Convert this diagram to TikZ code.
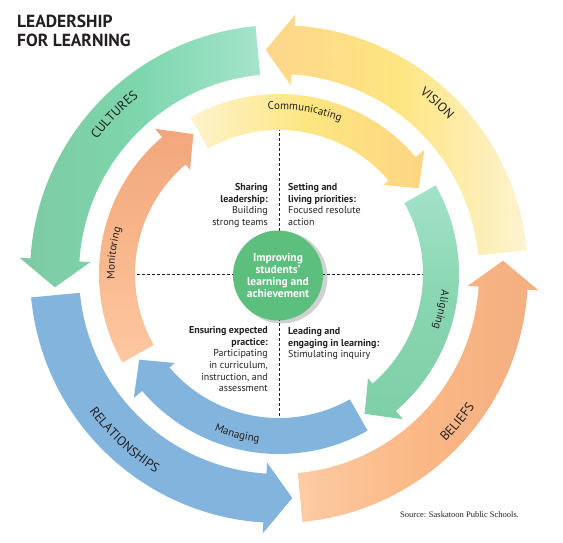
\documentclass[tikz,border=0pt]{standalone}
\usepackage{fontspec}
\setmainfont{PT Sans}
\newfontfamily\srcfont{Liberation Serif}
\usepackage{tikz}
\usetikzlibrary{positioning,decorations.text}

\definecolor{ink}{HTML}{231F20}
\definecolor{visA}{HTML}{FDD68B}
\definecolor{visB}{HTML}{FEE581}
\definecolor{visC}{HTML}{FDF3D2}
\definecolor{culA}{HTML}{7DCAA4}
\definecolor{culB}{HTML}{7DD6AD}
\definecolor{culC}{HTML}{A5E4CB}
\definecolor{relA}{HTML}{82B4DD}
\definecolor{belA}{HTML}{FDCBA3}
\definecolor{belB}{HTML}{FBB886}
\definecolor{belC}{HTML}{F4AE80}
\definecolor{comA}{HTML}{FDF3CD}
\definecolor{comB}{HTML}{FDE680}
\definecolor{comC}{HTML}{FDD583}
\definecolor{aliA}{HTML}{A3E2C9}
\definecolor{aliB}{HTML}{88D6B1}
\definecolor{aliC}{HTML}{7FCFA8}
\definecolor{monA}{HTML}{F2A67C}
\definecolor{monB}{HTML}{F8B68B}
\definecolor{monC}{HTML}{FEC8A1}
\definecolor{coreA}{HTML}{5CBF7E}

\newcommand\outerlbl{\color{ink}\fontsize{13}{13}\selectfont}
\newcommand\innerlbl{\color{ink}\fontsize{11}{11}\selectfont}

\begin{document}
\begin{tikzpicture}[x=1pt,y=1pt,
    dashline/.style={draw=ink, line width=0.6pt, dash pattern=on 3pt off 2pt},
    quad/.style={inner sep=0pt, text=ink, font=\fontsize{10}{11.7}\selectfont},
    core/.style={circle, fill=coreA, minimum size=90pt, inner sep=0pt, align=center,
        text=white, font=\bfseries\fontsize{11.5}{12.2}\selectfont}]
\useasboundingbox (-279,-269) rectangle (284,274);

\draw[dashline] (-142,0) -- (146,0);
\draw[dashline] (0,146) -- (0,-144);

\foreach \s/\ca/\cb/\cc/\ang in {5.4/visA/visB/visC/90, 95.4/culA/culB/culC/90,
    185.4/relA/relA/relA/90, 275.4/belA/belB/belC/90}{
  \shade[left color=\ca, right color=\cc, middle color=\cb, shading angle=\ang]
    (\s:200) -- (\s:249) arc[start angle=\s, end angle=\s+81, radius=249]
    -- ({\s+81}:260) -- ({\s+88}:224.5) -- ({\s+81}:189) -- ({\s+81}:200)
    arc[start angle=\s+81, end angle=\s, radius=200] -- cycle;
}
\foreach \s/\ca/\cb/\cc/\ang in {119.5/comA/comB/comC/90, 29.5/aliA/aliB/aliC/0,
    299.5/relA/relA/relA/90, 209.5/monA/monB/monC/0}{
  \shade[left color=\ca, right color=\cc, middle color=\cb, shading angle=\ang]
    (\s:144) -- (\s:180) arc[start angle=\s, end angle=\s-79, radius=180]
    -- ({\s-79}:191) -- ({\s-88}:164) -- ({\s-79}:137) -- ({\s-79}:144)
    arc[start angle=\s-79, end angle=\s, radius=144] -- cycle;
}

\path[decorate, decoration={text along path, text align=center, text={|\outerlbl|CULTURES}}]
  (181:226) arc[start angle=181, end angle=91, radius=226];
\path[decorate, decoration={text along path, text align=center, text={|\outerlbl|VISION}}]
  (92.2:229) arc[start angle=92.2, end angle=2.2, radius=229];
\path[decorate, decoration={text along path, text align=center, text={|\outerlbl|RELATIONSHIPS}}]
  (182:234) arc[start angle=182, end angle=272, radius=234];
\path[decorate, decoration={text along path, text align=center, text={|\outerlbl|BELIEFS}}]
  (-84.7:236.5) arc[start angle=-84.7, end angle=5.3, radius=236.5];

\path[decorate, decoration={text along path, text align=center, text={|\innerlbl|Communicating}}]
  (116:164.5) arc[start angle=116, end angle=46, radius=164.5];
\path[decorate, decoration={text along path, text align=center, text={|\innerlbl|Aligning}}]
  (22.5:163.5) arc[start angle=22.5, end angle=-47.5, radius=163.5];
\path[decorate, decoration={text along path, text align=center, text={|\innerlbl|Managing}}]
  (220.4:169.5) arc[start angle=220.4, end angle=290.4, radius=169.5];
\path[decorate, decoration={text along path, text align=center, text={|\innerlbl|Monitoring}}]
  (207.8:164.5) arc[start angle=207.8, end angle=137.8, radius=164.5];

\fill[black, opacity=0.18] (2.5,-3.5) circle (46);
\node[core] (core) at (-1,-1.5) {Improving\\students’\\learning and\\achievement};

\node[quad, anchor=north east, align=right] (sharing) at (-11,91)
  {\textbf{Sharing}\\\textbf{leadership:}\\Building\\strong teams};
\node[quad, anchor=north west, align=left] (setting) at (9,91)
  {\textbf{Setting and}\\\textbf{living priorities:}\\Focused resolute\\action};
\node[quad, anchor=north east, align=right] (ensuring) at (-11,-52)
  {\textbf{Ensuring expected}\\\textbf{practice:}\\Participating\\in curriculum,\\instruction, and\\assessment};
\node[quad, anchor=north west, align=left] (leading) at (9,-53)
  {\textbf{Leading and}\\\textbf{engaging in learning:}\\Stimulating inquiry};

\node[anchor=north west, inner sep=0pt, align=left, text=ink,
  font=\bfseries\fontsize{17.5}{19.7}\selectfont] (title) at (-262,259.5)
  {LEADERSHIP\\FOR LEARNING};
\node[anchor=west, inner sep=0pt, text=ink, font=\srcfont\fontsize{8.5}{10}\selectfont]
  (source) at (121,-241) {Source: Saskatoon Public Schools.};
\end{tikzpicture}
\end{document}
